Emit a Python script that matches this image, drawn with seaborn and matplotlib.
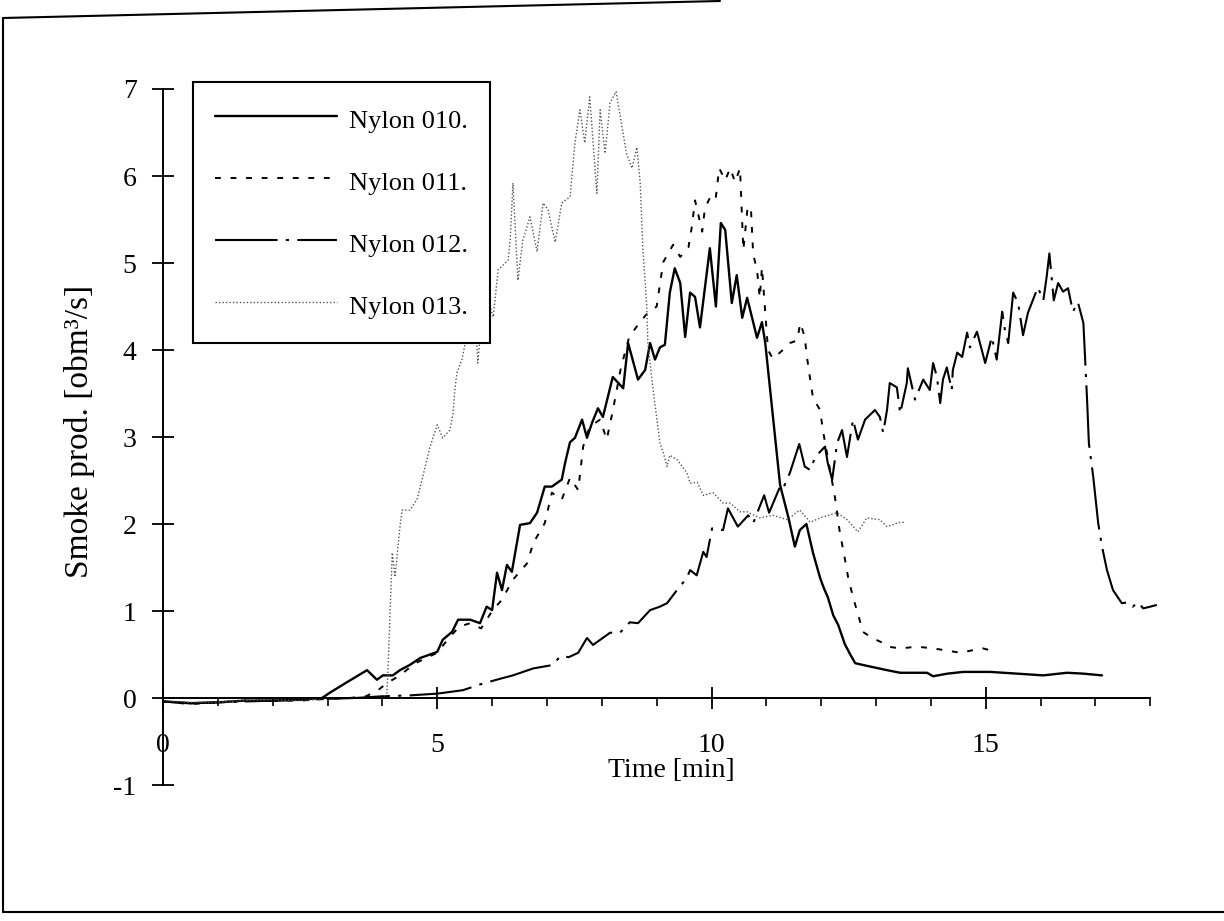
import numpy as np
import pandas as pd
import matplotlib
matplotlib.use("Agg")
import matplotlib.pyplot as plt
import seaborn as sns
from matplotlib.lines import Line2D
from matplotlib.ticker import FixedLocator

# ---------------- data (time in min, smoke production in obm3/s) ----------------
t010 = [0.0, 0.5, 1.0, 1.5, 2.0, 2.5, 2.9, 3.04, 3.35, 3.72,
        3.9, 4.01, 4.19, 4.32, 4.5, 4.69, 5.0, 5.1, 5.27, 5.38,
        5.6, 5.78, 5.9, 6.0, 6.09, 6.18, 6.27, 6.36, 6.51, 6.69,
        6.82, 6.96, 7.09, 7.27, 7.33, 7.42, 7.51, 7.64, 7.73, 7.82,
        7.93, 8.02, 8.2, 8.39, 8.48, 8.66, 8.79, 8.88, 8.97, 9.06,
        9.15, 9.24, 9.33, 9.43, 9.52, 9.61, 9.7, 9.79, 9.97, 10.08,
        10.17, 10.25, 10.37, 10.46, 10.56, 10.65, 10.83, 10.92, 10.98, 11.25,
        11.4, 11.52, 11.61, 11.73, 11.85, 11.98, 12.05, 12.12, 12.22, 12.31,
        12.43, 12.53, 12.62, 12.83, 13.2, 13.44, 13.93, 14.04, 14.3, 14.59,
        15.08, 15.57, 16.05, 16.48, 16.78, 17.12]
y010 = [-0.04, -0.06, -0.05, -0.03, -0.03, -0.02, 0.0, 0.06, 0.18, 0.32,
        0.21, 0.26, 0.26, 0.32, 0.38, 0.46, 0.53, 0.67, 0.76, 0.90,
        0.90, 0.86, 1.05, 1.01, 1.44, 1.24, 1.53, 1.45, 1.99, 2.01,
        2.13, 2.43, 2.43, 2.51, 2.70, 2.94, 2.99, 3.20, 2.99, 3.16,
        3.33, 3.23, 3.69, 3.56, 4.08, 3.66, 3.77, 4.08, 3.89, 4.03,
        4.06, 4.66, 4.94, 4.77, 4.15, 4.66, 4.61, 4.26, 5.17, 4.50,
        5.46, 5.38, 4.54, 4.86, 4.37, 4.60, 4.14, 4.32, 4.08, 2.45,
        2.08, 1.74, 1.93, 2.0, 1.67, 1.38, 1.26, 1.16, 0.95, 0.84,
        0.62, 0.50, 0.40, 0.37, 0.32, 0.29, 0.29, 0.25, 0.28, 0.30,
        0.30, 0.28, 0.26, 0.29, 0.28, 0.26]

t011 = [0.0, 0.5, 1.0, 1.5, 2.0, 2.5, 3.0, 3.4, 3.7, 3.9,
        4.08, 4.32, 4.6, 5.0, 5.2, 5.4, 5.6, 5.8, 6.0, 6.18,
        6.38, 6.64, 6.75, 6.96, 7.09, 7.27, 7.42, 7.57, 7.66, 7.78,
        7.97, 8.09, 8.2, 8.35, 8.5, 8.66, 8.8, 9.0, 9.12, 9.3,
        9.43, 9.58, 9.64, 9.7, 9.83, 9.88, 10.01, 10.08, 10.14, 10.25,
        10.34, 10.43, 10.52, 10.58, 10.66, 10.72, 10.76, 10.83, 10.88, 10.92,
        10.98, 11.03, 11.12, 11.3, 11.43, 11.56, 11.62, 11.7, 11.74, 11.8,
        11.85, 11.98, 12.03, 12.25, 12.34, 12.42, 12.49, 12.58, 12.69, 12.76,
        12.93, 13.1, 13.22, 13.44, 13.75, 14.04, 14.35, 14.53, 14.77, 14.95,
        15.13]
y011 = [-0.04, -0.07, -0.05, -0.03, -0.03, -0.03, -0.01, 0.0, 0.02, 0.08,
        0.17, 0.26, 0.40, 0.52, 0.68, 0.82, 0.86, 0.80, 1.00, 1.13,
        1.36, 1.55, 1.78, 2.01, 2.36, 2.28, 2.53, 2.39, 2.89, 3.12,
        3.20, 2.97, 3.30, 3.80, 4.15, 4.29, 4.40, 4.50, 5.01, 5.21,
        5.07, 5.18, 5.41, 5.72, 5.36, 5.63, 5.80, 5.76, 6.09, 5.95,
        6.09, 5.93, 6.09, 5.15, 5.65, 5.61, 5.10, 4.92, 4.60, 4.95,
        4.43, 4.00, 3.90, 4.00, 4.08, 4.11, 4.31, 4.15, 3.92, 3.66,
        3.45, 3.31, 3.08, 2.31, 1.90, 1.64, 1.39, 1.16, 0.92, 0.76,
        0.69, 0.64, 0.59, 0.57, 0.59, 0.57, 0.54, 0.52, 0.55, 0.57,
        0.54]

t012 = [0.0, 0.5, 1.0, 1.5, 2.0, 2.5, 3.0, 3.5, 4.0, 4.5,
        5.0, 5.47, 5.8, 6.14, 6.38, 6.75, 7.11, 7.24, 7.4, 7.57,
        7.73, 7.84, 8.15, 8.33, 8.51, 8.66, 8.88, 9.06, 9.19, 9.37,
        9.55, 9.61, 9.73, 9.85, 9.91, 10.01, 10.21, 10.3, 10.48, 10.67,
        10.76, 10.96, 11.05, 11.25, 11.3, 11.43, 11.6, 11.7, 11.8, 11.89,
        12.07, 12.12, 12.2, 12.29, 12.38, 12.47, 12.58, 12.67, 12.8, 12.98,
        13.07, 13.13, 13.2, 13.25, 13.38, 13.44, 13.56, 13.58, 13.71, 13.86,
        13.98, 14.04, 14.11, 14.17, 14.22, 14.29, 14.38, 14.4, 14.48, 14.57,
        14.66, 14.71, 14.84, 14.99, 15.11, 15.2, 15.3, 15.35, 15.41, 15.5,
        15.59, 15.68, 15.77, 15.95, 16.05, 16.11, 16.16, 16.2, 16.24, 16.32,
        16.41, 16.5, 16.59, 16.68, 16.78, 16.81, 16.85, 16.88, 16.96, 17.05,
        17.12, 17.21, 17.32, 17.48, 17.6, 17.68, 17.78, 17.87, 18.0, 18.12]
y012 = [-0.04, -0.06, -0.05, -0.04, -0.03, -0.02, -0.01, 0.0, 0.02, 0.03,
        0.05, 0.09, 0.16, 0.22, 0.26, 0.34, 0.38, 0.48, 0.47, 0.52,
        0.69, 0.61, 0.75, 0.75, 0.87, 0.86, 1.01, 1.05, 1.09, 1.24,
        1.38, 1.47, 1.41, 1.68, 1.62, 1.95, 1.93, 2.18, 1.97, 2.10,
        2.01, 2.33, 2.13, 2.43, 2.40, 2.59, 2.92, 2.66, 2.62, 2.77,
        2.89, 2.70, 2.51, 2.93, 3.08, 2.77, 3.20, 2.97, 3.20, 3.31,
        3.23, 3.05, 3.31, 3.62, 3.57, 3.27, 3.62, 3.79, 3.43, 3.66,
        3.54, 3.85, 3.69, 3.39, 3.66, 3.80, 3.54, 3.77, 3.97, 3.92,
        4.20, 4.03, 4.21, 3.85, 4.15, 3.89, 4.44, 4.23, 4.08, 4.66,
        4.54, 4.17, 4.43, 4.72, 4.57, 4.84, 5.11, 4.84, 4.57, 4.77,
        4.67, 4.71, 4.44, 4.55, 4.31, 3.92, 3.39, 2.93, 2.54, 2.01,
        1.74, 1.47, 1.24, 1.09, 1.10, 1.05, 1.10, 1.03, 1.05, 1.07]

t013 = [0.0, 0.5, 1.0, 1.5, 2.0, 2.5, 3.0, 3.5, 4.0, 4.08,
        4.10, 4.18, 4.23, 4.32, 4.36, 4.50, 4.63, 4.72, 4.78, 4.87,
        5.0, 5.10, 5.23, 5.29, 5.32, 5.36, 5.45, 5.51, 5.72, 5.74,
        5.8, 5.86, 5.93, 6.02, 6.11, 6.29, 6.33, 6.38, 6.47, 6.56,
        6.69, 6.82, 6.93, 7.02, 7.15, 7.27, 7.42, 7.46, 7.51, 7.60,
        7.69, 7.78, 7.91, 7.97, 8.06, 8.15, 8.26, 8.45, 8.55, 8.64,
        8.70, 8.75, 8.82, 8.84, 8.92, 9.06, 9.12, 9.19, 9.24, 9.37,
        9.55, 9.61, 9.74, 9.85, 10.03, 10.21, 10.34, 10.52, 10.65, 10.88,
        11.12, 11.38, 11.61, 11.8, 11.98, 12.29, 12.47, 12.67, 12.83, 13.07,
        13.2, 13.44, 13.53]
y013 = [-0.03, -0.05, -0.05, -0.03, -0.02, -0.03, -0.01, 0.0, 0.0, 0.05,
        0.29, 1.67, 1.39, 1.97, 2.16, 2.16, 2.28, 2.50, 2.66, 2.89,
        3.14, 2.99, 3.08, 3.28, 3.54, 3.74, 3.89, 4.08, 4.08, 3.85,
        4.3, 4.5, 4.57, 4.38, 4.92, 5.03, 5.26, 5.92, 4.80, 5.26,
        5.53, 5.13, 5.69, 5.61, 5.24, 5.69, 5.76, 6.03, 6.38, 6.76,
        6.38, 6.91, 5.80, 6.76, 6.26, 6.84, 6.97, 6.26, 6.09, 6.33,
        5.92, 5.15, 4.50, 4.08, 3.62, 2.93, 2.82, 2.66, 2.79, 2.74,
        2.59, 2.47, 2.48, 2.33, 2.36, 2.24, 2.24, 2.14, 2.14, 2.07,
        2.10, 2.05, 2.16, 2.02, 2.07, 2.13, 2.05, 1.91, 2.07, 2.05,
        1.97, 2.02, 2.02]

labels = ["Nylon 010.", "Nylon 011.", "Nylon 012.", "Nylon 013."]
x_ticks = [0, 5, 10, 15]
y_ticks = [-1, 0, 1, 2, 3, 4, 5, 6, 7]

# ---------------- style ----------------
sns.set_style("ticks")
plt.rcParams["font.family"] = ["Liberation Serif", "DejaVu Serif"]
plt.rcParams["axes.unicode_minus"] = False
plt.rcParams["text.color"] = "black"
plt.rcParams["axes.labelcolor"] = "black"

W, H = 1224, 921
fig = plt.figure(figsize=(W / 100, H / 100), dpi=100)
px_per_min = 54.85
ax = fig.add_axes([163 / W, 1 - 785 / H, 18.3 * px_per_min / W, 696 / H])

series = [
    (t010, y010, dict(color="black", lw=1.7, linestyle="-")),
    (t011, y011, dict(color="black", lw=1.4, linestyle=(0, (3, 5)))),
    (t012, y012, dict(color="black", lw=1.5, linestyle=(0, (30, 4, 1.5, 4)))),
    (t013, y013, dict(color="#555555", lw=1.0, linestyle=(0, (1, 1.5)))),
]
for (t, v, kw), lab in zip(series, labels):
    df = pd.DataFrame({"t": t, "v": v})
    sns.lineplot(data=df, x="t", y="v", ax=ax, label=lab, sort=False,
                 estimator=None, errorbar=None, **kw)

# ---------------- axes ----------------
ax.set_xlim(0, 18.3)
ax.set_ylim(-1, 7)
for s in ("top", "right"):
    ax.spines[s].set_visible(False)
ax.spines["bottom"].set_position(("data", 0))
ax.spines["bottom"].set_bounds(0, 18)
ax.spines["left"].set_bounds(-1, 7)
for s in ("bottom", "left"):
    ax.spines[s].set_linewidth(1.4)
    ax.spines[s].set_color("black")

ax.xaxis.set_major_locator(FixedLocator(x_ticks))
ax.xaxis.set_minor_locator(FixedLocator([i for i in range(1, 19) if i % 5]))
ax.yaxis.set_major_locator(FixedLocator(y_ticks))
ax.set_xticklabels([str(v) for v in x_ticks])
ax.set_yticklabels([str(v) for v in y_ticks])
ax.tick_params(axis="x", which="major", bottom=True, direction="inout", length=16,
               width=1.3, pad=17, labelsize=20, colors="black")
ax.tick_params(axis="x", which="minor", bottom=True, direction="out", length=6,
               width=1.2, colors="black")
ax.tick_params(axis="y", which="major", left=True, direction="inout", length=16,
               width=1.3, pad=11, labelsize=20, colors="black")

ax.set_ylabel("Smoke prod. [obm³/s]", fontsize=24)
ax.yaxis.set_label_coords(80 / W, 1 - 431 / H, transform=fig.transFigure)
ax.yaxis.label.set_va("center")
ax.set_xlabel("Time [min]", fontsize=20)
ax.xaxis.set_label_coords(671 / W, 1 - 770 / H, transform=fig.transFigure)
ax.xaxis.label.set_va("center")

handles, labs = ax.get_legend_handles_labels()
leg = ax.legend(handles, labs, loc="upper left",
                bbox_to_anchor=(193 / W, 1 - 82 / H), bbox_transform=fig.transFigure,
                borderaxespad=0, frameon=True, fancybox=False, shadow=False,
                framealpha=1, edgecolor="black", facecolor="white", fontsize=19,
                handlelength=4.6, handletextpad=0.45, borderpad=0.85,
                handleheight=1.36, labelspacing=1.22)
leg.get_frame().set_linewidth(1.5)

# scanned page frame
frame_kw = dict(transform=fig.transFigure, color="black", lw=1.5)
fig.add_artist(Line2D([3 / W, 3 / W], [1 - 912 / H, 1 - 18 / H], **frame_kw))
fig.add_artist(Line2D([3 / W, 1.0], [1 - 912 / H, 1 - 912 / H], **frame_kw))
fig.add_artist(Line2D([3 / W, 720 / W], [1 - 18 / H, 1 - 1 / H], **frame_kw))

fig.savefig("out.png", dpi=100, facecolor="white")
